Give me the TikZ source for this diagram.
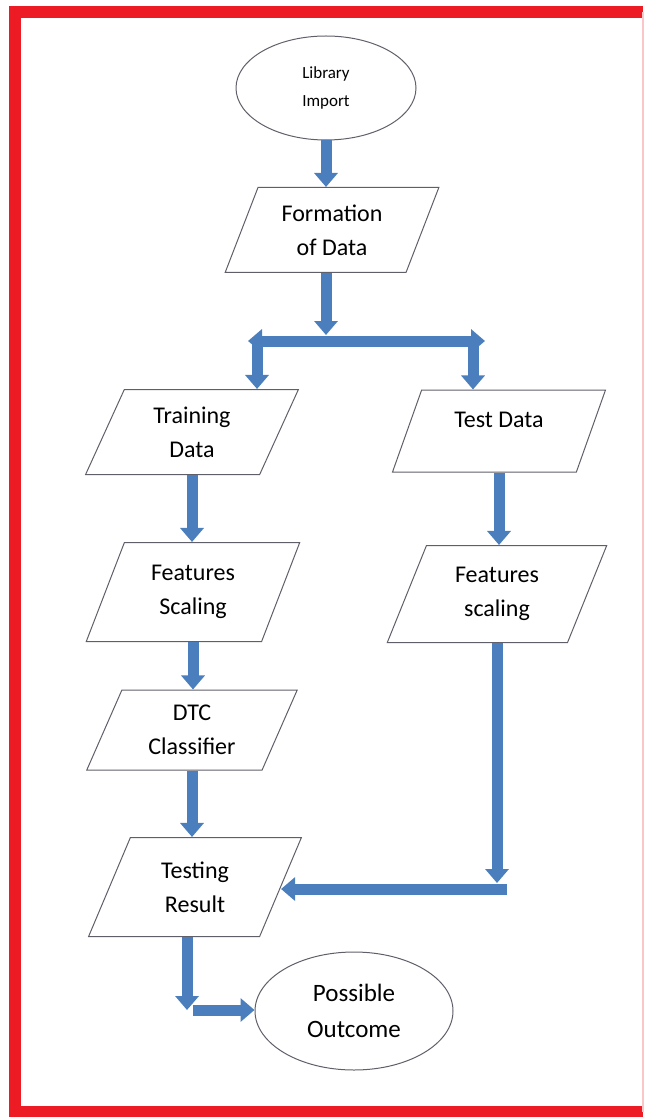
\documentclass[tikz,border=0pt]{standalone}
\usepackage{xcolor}
\usepackage{fontspec}
\setmainfont{Carlito}
\usepackage{tikz}
\usetikzlibrary{shapes.geometric, arrows.meta, calc, positioning}
\definecolor{blockblue}{RGB}{74,126,188}
\definecolor{framered}{RGB}{237,28,36}
\definecolor{outlinegray}{RGB}{95,95,105}

\begin{document}
\begin{tikzpicture}[x=0.5pt, y=-0.5pt,
	datanode/.style={trapezium, trapezium left angle=67, trapezium right angle=113, trapezium stretches=true,
		draw=outlinegray, line width=0.5pt, minimum width=107pt, minimum height=42pt, inner sep=1pt,
		align=center, font=\fontsize{12}{17}\selectfont},
	endnode/.style={ellipse, draw=outlinegray, line width=0.5pt, inner sep=0pt, align=center},
	flow/.style={draw=blockblue, line width=5.5pt, -{Triangle[width=11.5pt,length=7pt]}},
	bar/.style={draw=blockblue, line width=5.5pt}]
	\useasboundingbox (0,0) rectangle (647,1117);
	% red frame
	\draw[framered, line width=6pt] (643,12) -- (15,12) -- (15,1112) -- (643,1112);
	\draw[framered!25, line width=0.6pt] (643,12) -- (643,1112);
	
	% nodes
	\node[endnode, minimum width=90pt, minimum height=52pt, font=\fontsize{8.5}{14}\selectfont] (lib) at (326,88) {Library\\Import};
	\node[datanode, minimum height=42.5pt] (form) at (332,230) {Formation\\of Data};
	\node[datanode, minimum height=42.5pt] (train) at (192,432) {Training\\Data};
	\node[datanode, minimum height=41pt, text depth=11pt] (test) at (499,431) {Test Data};
	\node[datanode, minimum height=49.5pt] (trainfs) at (193,592) {Features\\Scaling};
	\node[datanode, minimum height=48.5pt, minimum width=110pt] (testfs) at (497,594) {Features\\scaling};
	\node[datanode, minimum height=40pt, minimum width=105.5pt] (dtc) at (192,730) {DTC\\Classifier};
	\node[datanode, minimum height=49.5pt] (result) at (195,887) {Testing\\Result};
	\node[endnode, minimum width=99pt, minimum height=59pt, font=\fontsize{12.5}{18}\selectfont] (outcome) at (354,1011) {Possible\\Outcome};
	
	\coordinate (splitL) at (248,341);
	\coordinate (splitR) at (485,341);
	\coordinate (dropL) at (257,341);
	\coordinate (dropR) at (473,341);
	\coordinate (bendR) at (507,889);
	\coordinate (bendB) at (193,1010);
	
	% arrows
	\draw[flow] (lib.south) -- (lib.south |- form.north);
	\draw[flow] (lib.south |- form.south) -- ($(lib.south |- splitL)+(0,-6)$);
	\draw[bar, {Triangle[width=11.5pt,length=7pt]}-{Triangle[width=11.5pt,length=7pt]}] (splitL) -- (splitR);
	\draw[flow] (dropL) -- (dropL |- train.north);
	\draw[flow] (dropR) -- (dropR |- test.north);
	\draw[flow] (train.south) -- (train.south |- trainfs.north);
	\draw[flow] (trainfs.south) -- (trainfs.south |- dtc.north);
	\draw[flow] (dtc.south) -- (dtc.south |- result.north);
	\draw[flow] (test.south) -- (test.south |- testfs.north);
	\draw[flow] (bendR) -- (bendR -| result.east);
	\draw[flow, shorten >=3pt] (testfs.south) -- (testfs.south |- bendR);
	\draw[flow] ([xshift=-4pt]result.south) -- ([xshift=-4pt]result.south |- bendB);
	\draw[flow] (bendB) -- (bendB -| outcome.west);
\end{tikzpicture}
\end{document}
